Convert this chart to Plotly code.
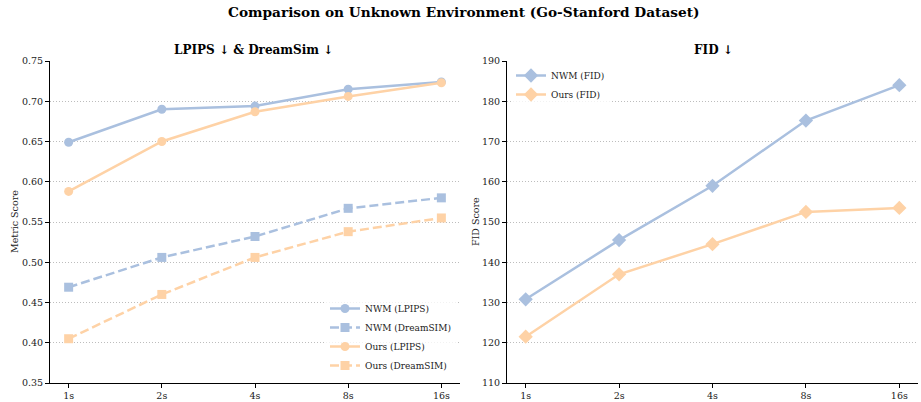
import plotly.graph_objects as go

horizons = ["1s", "2s", "4s", "8s", "16s"]
nwm_lpips = [0.649, 0.690, 0.694, 0.715, 0.724]
ours_lpips = [0.588, 0.650, 0.687, 0.706, 0.723]
nwm_dreamsim = [0.469, 0.506, 0.532, 0.567, 0.580]
ours_dreamsim = [0.405, 0.460, 0.506, 0.538, 0.555]
nwm_fid = [130.8, 145.5, 159.0, 175.2, 184.0]
ours_fid = [121.5, 137.0, 144.5, 152.5, 153.5]

BLUE = "#aac0df"
ORANGE = "#fed2a6"
FONT = "DejaVu Serif"

fig = go.Figure()
xi = list(range(len(horizons)))

def add(y, name, color, symbol, dash, xa, ya, legend, msize=9):
    fig.add_trace(go.Scatter(
        x=xi, y=y, name=name, mode="lines+markers",
        line=dict(color=color, width=2.5, dash=dash),
        marker=dict(color=color, symbol=symbol, size=msize),
        xaxis=xa, yaxis=ya, legend=legend))

add(nwm_lpips, "NWM (LPIPS)", BLUE, "circle", "solid", "x", "y", "legend")
add(nwm_dreamsim, "NWM (DreamSIM)", BLUE, "square", "9px,4px", "x", "y", "legend")
add(ours_lpips, "Ours (LPIPS)", ORANGE, "circle", "solid", "x", "y", "legend")
add(ours_dreamsim, "Ours (DreamSIM)", ORANGE, "square", "9px,4px", "x", "y", "legend")
add(nwm_fid, "NWM (FID)", BLUE, "diamond", "solid", "x2", "y2", "legend2", 11)
add(ours_fid, "Ours (FID)", ORANGE, "diamond", "solid", "x2", "y2", "legend2", 11)

W, H = 921, 402
ml, mr, mt, mb = 50, 3, 61, 19
pw = W - ml - mr
ph = H - mt - mb

def px(x):
    return (x - ml) / pw

def py(y):
    return (H - mb - y) / ph

axis_common = dict(
    showline=True, linecolor="black", linewidth=1,
    ticks="outside", ticklen=4, tickwidth=1, tickcolor="black",
    tickfont=dict(family=FONT, size=9.5, color="#222"),
    automargin=False, zeroline=False,
)
xcommon = dict(axis_common, tickmode="array", tickvals=xi, ticktext=horizons,
               range=[-0.2, 4.2], showgrid=False)
ycommon = dict(axis_common, showgrid=True, gridcolor="#bdbdbd", gridwidth=0.8,
               griddash="1px,2px")

fig.update_layout(
    width=W, height=H,
    margin=dict(l=ml, r=mr, t=mt, b=mb),
    paper_bgcolor="white", plot_bgcolor="white",
    font=dict(family=FONT, color="#222"),
    showlegend=True,
    xaxis=dict(xcommon, domain=[0, px(460)], anchor="y"),
    yaxis=dict(ycommon, range=[0.35, 0.75], dtick=0.05, tickformat=".2f", anchor="x"),
    xaxis2=dict(xcommon, domain=[px(507), 1.0], anchor="y2"),
    yaxis2=dict(ycommon, range=[110, 190], dtick=10, anchor="x2"),
    legend=dict(x=px(456), y=py(380), xanchor="right", yanchor="bottom",
                bgcolor="rgba(255,255,255,0.8)", borderwidth=0,
                font=dict(family=FONT, size=9, color="#222"),
                itemwidth=30, tracegroupgap=0),
    legend2=dict(x=px(511), y=py(61), xanchor="left", yanchor="top",
                 bgcolor="rgba(255,255,255,0.8)", borderwidth=0,
                 font=dict(family=FONT, size=9, color="#222"),
                 itemwidth=30, tracegroupgap=0),
    annotations=[
        dict(text="<b>Comparison on Unknown Environment (Go-Stanford Dataset)</b>",
             x=px(463), y=py(12), xref="paper", yref="paper", showarrow=False,
             xanchor="center", yanchor="middle", font=dict(family=FONT, size=13.7, color="black")),
        dict(text="<b>LPIPS ↓ & DreamSim ↓</b>", x=px(253), y=py(50), xref="paper", yref="paper",
             showarrow=False, xanchor="center", yanchor="middle",
             font=dict(family=FONT, size=12, color="black")),
        dict(text="<b>FID ↓</b>", x=px(713), y=py(50), xref="paper", yref="paper",
             showarrow=False, xanchor="center", yanchor="middle",
             font=dict(family=FONT, size=12, color="black")),
        dict(text="Metric Score", x=px(14), y=py(222), xref="paper", yref="paper",
             showarrow=False, textangle=-90, xanchor="center", yanchor="middle",
             font=dict(family=FONT, size=9.5, color="#222")),
        dict(text="FID Score", x=px(475), y=py(222), xref="paper", yref="paper",
             showarrow=False, textangle=-90, xanchor="center", yanchor="middle",
             font=dict(family=FONT, size=9.5, color="#222")),
    ],
)

fig.write_html("out.html")
